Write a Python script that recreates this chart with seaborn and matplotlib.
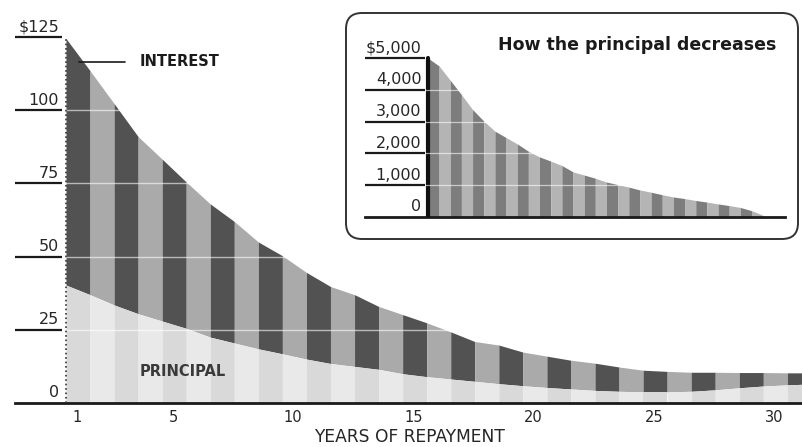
"""Mortgage repayment chart: yearly interest vs principal, with a balance inset."""

import matplotlib
matplotlib.use("Agg")
import matplotlib.pyplot as plt
import seaborn as sns
from matplotlib.patches import FancyBboxPatch
from matplotlib.transforms import IdentityTransform


# main chart, values read at the left edge of each yearly stripe
year_edges = [0.55 + k for k in range(32)]
total_payment = [124.5, 113.5, 102.3, 91.0, 83.3, 75.5, 68.0, 62.0, 55.0, 50.3,
                 44.6, 39.8, 37.0, 33.0, 30.2, 27.4, 24.3, 21.0, 19.8, 17.4,
                 16.0, 14.6, 13.6, 12.3, 11.2, 10.8, 10.5, 10.5, 10.4, 10.4,
                 10.3, 10.3]
principal_part = [40.3, 37.0, 33.5, 30.5, 28.0, 25.5, 22.5, 20.5, 18.5, 16.8,
                  15.0, 13.5, 12.5, 11.5, 10.0, 9.0, 8.2, 7.4, 6.6, 5.9,
                  5.3, 4.8, 4.3, 4.0, 3.8, 3.8, 4.0, 4.5, 5.2, 5.8,
                  6.2, 6.5]
year_ticks = [1, 5, 10, 15, 20, 25, 30]
payment_ticks = [0, 25, 50, 75, 100, 125]
payment_labels = ["0", "25", "50", "75", "100", "$125"]

# inset: outstanding principal at each step
balance_steps = list(range(31))
balance = [5000, 4750, 4300, 3850, 3380, 3020, 2700, 2500, 2300, 2070,
           1890, 1760, 1620, 1420, 1320, 1220, 1100, 1020, 940, 850,
           780, 700, 630, 580, 520, 470, 410, 360, 300, 200, 60]
balance_ticks = [0, 1000, 2000, 3000, 4000, 5000]
balance_labels = ["0", "1,000", "2,000", "3,000", "4,000", "$5,000"]

INK = "#1a1a1a"
TEXT = "#262626"


def setup_style():
    sns.set_theme(style="white")
    plt.rcParams.update({
        "font.family": ["DejaVu Sans"],
        "axes.facecolor": "none",
        "figure.facecolor": "white",
    })


def left_ticks(ax, ticks, labels, x0, x1, size):
    # short rules under each label, newspaper style
    ax.hlines(ticks[1:], x0, x1, color=INK, lw=1.6, clip_on=False, zorder=5)
    for v, lab in zip(ticks, labels):
        ax.annotate(lab, (x1 - 0.03 * (x1 - x0), v), xytext=(-1, 4),
                    textcoords="offset points", ha="right", va="baseline",
                    fontsize=size, color=TEXT, annotation_clip=False)


def main_chart(fig):
    ax = fig.add_axes([15 / 803, 44 / 447, 788 / 803, 373 / 447])
    ax.set_xlim(-1.57, 31.2)
    ax.set_ylim(0, 127.4)

    for k in range(len(year_edges) - 1):
        xs = year_edges[k:k + 2]
        odd = k % 2 == 0
        ax.fill_between(xs, principal_part[k:k + 2], total_payment[k:k + 2],
                        color="#525252" if odd else "#aaaaaa", lw=0, zorder=2)
        ax.fill_between(xs, 0, principal_part[k:k + 2],
                        color="#d9d9d9" if odd else "#e9e9e9", lw=0, zorder=2)
    for v in payment_ticks[1:-1]:
        ax.axhline(v, color="white", lw=1.0, alpha=0.6, zorder=3)
    ax.plot([year_edges[0]] * 2, [0, total_payment[0]], color="#333333",
            lw=1.2, ls=":", zorder=4)

    left_ticks(ax, payment_ticks, payment_labels, -1.57, 0.38, 11.5)

    sns.despine(ax=ax, left=True, top=True, right=True)
    ax.spines["bottom"].set_linewidth(2)
    ax.spines["bottom"].set_color(INK)
    ax.set_yticks([])
    ax.set_xticks(year_ticks)
    ax.tick_params(axis="x", length=0, pad=5, labelsize=10.5, labelcolor=TEXT)
    ax.set_xlabel("YEARS OF REPAYMENT", fontsize=12.3, color=TEXT, labelpad=2)

    ax.plot([1.1, 3.0], [116.5, 116.5], color=INK, lw=1.2, zorder=5)
    ax.text(3.63, 116.5, "INTEREST", fontsize=10.5, fontweight="bold",
            color=INK, va="center", ha="left")
    ax.text(3.63, 10.6, "PRINCIPAL", fontsize=10.5, fontweight="bold",
            color="#3a3a3a", va="center", ha="left", zorder=5)
    return ax


def inset_chart(fig):
    box = FancyBboxPatch((346, 447 - 239), 452, 226,
                         boxstyle="round,pad=0,rounding_size=16",
                         transform=IdentityTransform(), facecolor="white",
                         edgecolor="#333333", lw=1.4, zorder=1)
    fig.add_artist(box)

    ax = fig.add_axes([365 / 803, (447 - 217) / 447, 420 / 803, 167 / 447])
    ax.set_zorder(3)
    ax.set_xlim(-5.64, 32.0)
    ax.set_ylim(0, 5252)
    for k in range(len(balance_steps) - 1):
        ax.fill_between(balance_steps[k:k + 2], 0, balance[k:k + 2],
                        color="#7d7d7d" if k % 2 == 0 else "#b4b4b4",
                        lw=0, zorder=2)
    ax.plot([0, 0], [0, balance[0]], color="#111111", lw=3, zorder=3)
    for v in balance_ticks[1:-1]:
        ax.axhline(v, color="white", lw=0.9, alpha=0.6, zorder=3)
    left_ticks(ax, balance_ticks, balance_labels, -5.64, -0.3, 11.5)

    sns.despine(ax=ax, left=True, top=True, right=True)
    ax.spines["bottom"].set_linewidth(2)
    ax.spines["bottom"].set_color(INK)
    ax.set_xticks([])
    ax.set_yticks([])
    fig.text(637 / 803, 1 - 45 / 447, "How the principal decreases",
             fontsize=12.5, fontweight="bold", color=INK, ha="center",
             va="center", zorder=4)


def main():
    setup_style()
    fig = plt.figure(figsize=(8.03, 4.47), dpi=100)
    main_chart(fig)
    inset_chart(fig)
    fig.savefig("out.png", dpi=100)
    plt.close(fig)


if __name__ == "__main__":
    main()
